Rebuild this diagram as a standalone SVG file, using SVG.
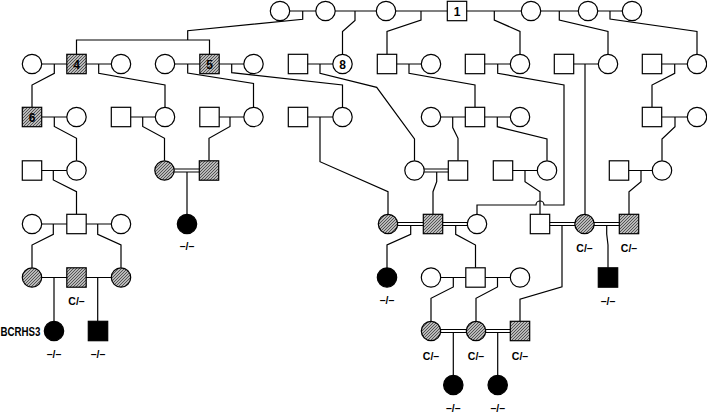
<svg xmlns="http://www.w3.org/2000/svg" width="707" height="413" viewBox="0 0 707 413">
<defs>
<pattern id="hatch" patternUnits="userSpaceOnUse" width="3" height="3">
<rect width="3" height="3" fill="#b8b8b8"/>
<path d="M-1,1 L1,-1 M0,3 L3,0 M2,4 L4,2" stroke="#484848" stroke-width="0.9"/>
</pattern>
<style>
.ln{fill:none;stroke:#000;stroke-width:1.2}
.u{fill:#fff;stroke:#000;stroke-width:1.2}
.h{fill:url(#hatch);stroke:#000;stroke-width:1.2}
.a{fill:#000;stroke:#000;stroke-width:1.2}
.num{font-family:"Liberation Sans",Arial,sans-serif;font-weight:bold;font-size:12px;text-anchor:middle}
.lbl{font-family:"Liberation Sans",Arial,sans-serif;font-weight:bold;font-size:10.5px;text-anchor:middle}
.side{font-family:"Liberation Sans",Arial,sans-serif;font-weight:bold;font-size:12px}
</style>
</defs>
<rect width="707" height="413" fill="#fff"/>
<g id="connectors" class="ln">
<path d="M280,11 H632"/>
<path d="M302.7,11 V19.3 L187.7,30.7 V40 M76.5,54.3 V40 H209.5 V54.3"/>
<path d="M355,11 V20.5 L342.5,31.5 V54.3"/>
<path d="M421,11 V20 L387,31.5 V54.3"/>
<path d="M494.3,11 V20 L520,31.5 V54.3"/>
<path d="M559.3,11 V20 L608,31.5 V54.3"/>
<path d="M610,11 V19 L697,31.5 V54.3"/>
<path d="M32,64 H121 M165,64 H253.5 M298,64 H342.5 M387,64 H431 M475,64 H520 M564,64 H608 M652,64 H697"/>
<path d="M54.3,64 V73.3 L32,85 V107.3"/>
<path d="M98.7,64 V73.3 L165,85 V107.3"/>
<path d="M187.7,64 V73 L253.5,83.5 V107.3"/>
<path d="M231.7,64 V72.7 L342.5,85 V107.3"/>
<path d="M320,64 V73.3 L376.7,87.3 L414.5,139 V160.8"/>
<path d="M409,64 V73.3 L475,85 V107.3"/>
<path d="M497.7,64 V73.3 L564,85 V205 H544 A4,4 0 0 0 536,205 H477 V214.3"/>
<path d="M585,64 V214.3"/>
<path d="M674.7,64 V73.3 L652,85 V107.3"/>
<path d="M32,117 H76.5 M121,117 H165 M209.5,117 H253.5 M298,117 H342.5 M431,117 H520 M652,117 H697"/>
<path d="M54.3,117 V126.5 L76.5,138.3 V160.8"/>
<path d="M142.7,117 V126.5 L164.5,138.3 V160.8"/>
<path d="M230,117 V126.5 L209,138.3 V160.8"/>
<path d="M320,117 V161.7 L388,191.7 V214.3"/>
<path d="M452.7,117 V127.5 L458,138.3 V160.8"/>
<path d="M497.3,117 V126.7 L547,139 V160.8"/>
<path d="M675,117 V126.7 L662,139 V160.8"/>
<path d="M32,170.5 H76.5 M503,170.5 H547 M619,170.5 H662"/>
<path d="M164.5,169 H209 M164.5,172 H209 M414.5,169 H458 M414.5,172 H458"/>
<path d="M53.3,170.5 V180 L76.5,191.7 V214.3"/>
<path d="M187,172 V214.3"/>
<path d="M436.7,172 V181.7 L433,191.7 V214.3"/>
<path d="M525,170.5 V181.7 L540,191.7 V214.3"/>
<path d="M641,170.5 V181.7 L629,191.7 V214.3"/>
<path d="M32,224 H121"/>
<path d="M388,222.5 H477 M388,225.5 H477 M540,222.5 H629 M540,225.5 H629"/>
<path d="M53.3,224 V234.3 L32,245 V267.8"/>
<path d="M97.7,224 V234.3 L121,245 V267.8"/>
<path d="M410.7,225.5 V234.3 L387,245 V267.8"/>
<path d="M455.7,225.5 V234.3 L475.5,245 V267.8"/>
<path d="M562,225.5 V286.7 L520,299.3 V321.3"/>
<path d="M606.7,225.5 V234 L608,245 V267.8"/>
<path d="M32,277.5 H121 M431,277.5 H520"/>
<path d="M54,277.5 V321.3"/>
<path d="M97.7,277.5 V321.3"/>
<path d="M453.3,277.5 V287 L431,298.3 V321.3"/>
<path d="M497.5,277.5 V287 L476,298.3 V321.3"/>
<path d="M431,329.5 H520 M431,332.5 H520"/>
<path d="M453.3,332.5 V375.3"/>
<path d="M497.7,332.5 V375.3"/>
</g>
<g id="r0c1"><circle class="u" cx="280" cy="11" r="9.7"/></g>
<g id="r0c2"><circle class="u" cx="325.5" cy="11" r="9.7"/></g>
<g id="r0c3"><circle class="u" cx="386" cy="11" r="9.7"/></g>
<g id="n1"><rect class="u" x="447.3" y="1.3" width="19.4" height="19.4"/><text class="num" x="457" y="15.5">1</text></g>
<g id="r0c4"><circle class="u" cx="531" cy="11" r="9.7"/></g>
<g id="r0c5"><circle class="u" cx="588" cy="11" r="9.7"/></g>
<g id="r0c6"><circle class="u" cx="632" cy="11" r="9.7"/></g>
<g id="r1c1"><circle class="u" cx="32" cy="64" r="9.7"/></g>
<g id="n4"><rect class="h" x="66.8" y="54.3" width="19.4" height="19.4"/><text class="num" x="76.5" y="68.5">4</text></g>
<g id="r1c2"><circle class="u" cx="121" cy="64" r="9.7"/></g>
<g id="r1c3"><circle class="u" cx="165" cy="64" r="9.7"/></g>
<g id="n5"><rect class="h" x="199.8" y="54.3" width="19.4" height="19.4"/><text class="num" x="209.5" y="68.5">5</text></g>
<g id="r1c4"><circle class="u" cx="253.5" cy="64" r="9.7"/></g>
<g id="r1s1"><rect class="u" x="288.3" y="54.3" width="19.4" height="19.4"/></g>
<g id="n8"><circle class="u" cx="342.5" cy="64" r="9.7"/><text class="num" x="342.5" y="68.5">8</text></g>
<g id="r1s2"><rect class="u" x="377.3" y="54.3" width="19.4" height="19.4"/></g>
<g id="r1c5"><circle class="u" cx="431" cy="64" r="9.7"/></g>
<g id="r1s3"><rect class="u" x="465.3" y="54.3" width="19.4" height="19.4"/></g>
<g id="r1c6"><circle class="u" cx="520" cy="64" r="9.7"/></g>
<g id="r1s4"><rect class="u" x="554.3" y="54.3" width="19.4" height="19.4"/></g>
<g id="r1c7"><circle class="u" cx="608" cy="64" r="9.7"/></g>
<g id="r1s5"><rect class="u" x="642.3" y="54.3" width="19.4" height="19.4"/></g>
<g id="r1c8"><circle class="u" cx="697" cy="64" r="9.7"/></g>
<g id="n6"><rect class="h" x="22.3" y="107.3" width="19.4" height="19.4"/><text class="num" x="32" y="121.5">6</text></g>
<g id="r2c1"><circle class="u" cx="76.5" cy="117" r="9.7"/></g>
<g id="r2s1"><rect class="u" x="111.3" y="107.3" width="19.4" height="19.4"/></g>
<g id="r2c2"><circle class="u" cx="165" cy="117" r="9.7"/></g>
<g id="r2s2"><rect class="u" x="199.8" y="107.3" width="19.4" height="19.4"/></g>
<g id="r2c3"><circle class="u" cx="253.5" cy="117" r="9.7"/></g>
<g id="r2s3"><rect class="u" x="288.3" y="107.3" width="19.4" height="19.4"/></g>
<g id="r2c4"><circle class="u" cx="342.5" cy="117" r="9.7"/></g>
<g id="r2c5"><circle class="u" cx="431" cy="117" r="9.7"/></g>
<g id="r2s4"><rect class="u" x="465.3" y="107.3" width="19.4" height="19.4"/></g>
<g id="r2c6"><circle class="u" cx="520" cy="117" r="9.7"/></g>
<g id="r2s5"><rect class="u" x="642.3" y="107.3" width="19.4" height="19.4"/></g>
<g id="r2c7"><circle class="u" cx="697" cy="117" r="9.7"/></g>
<g id="r3s1"><rect class="u" x="22.3" y="160.8" width="19.4" height="19.4"/></g>
<g id="r3c1"><circle class="u" cx="76.5" cy="170.5" r="9.7"/></g>
<g id="r3c2"><circle class="h" cx="164.5" cy="170.5" r="9.7"/></g>
<g id="r3s2"><rect class="h" x="199.3" y="160.8" width="19.4" height="19.4"/></g>
<g id="r3c3"><circle class="u" cx="414.5" cy="170.5" r="9.7"/></g>
<g id="r3s3"><rect class="u" x="448.3" y="160.8" width="19.4" height="19.4"/></g>
<g id="r3s4"><rect class="u" x="493.3" y="160.8" width="19.4" height="19.4"/></g>
<g id="r3c4"><circle class="u" cx="547" cy="170.5" r="9.7"/></g>
<g id="r3s5"><rect class="u" x="609.3" y="160.8" width="19.4" height="19.4"/></g>
<g id="r3c5"><circle class="u" cx="662" cy="170.5" r="9.7"/></g>
<g id="r4c1"><circle class="u" cx="32" cy="224" r="9.7"/></g>
<g id="r4s1"><rect class="u" x="66.8" y="214.3" width="19.4" height="19.4"/></g>
<g id="r4c2"><circle class="u" cx="121" cy="224" r="9.7"/></g>
<g id="r4c3"><circle class="a" cx="187" cy="224" r="9.7"/><text class="lbl" x="187" y="249.5">–/–</text></g>
<g id="r4c4"><circle class="h" cx="388" cy="224" r="9.7"/></g>
<g id="r4s2"><rect class="h" x="423.3" y="214.3" width="19.4" height="19.4"/></g>
<g id="r4c5"><circle class="u" cx="477" cy="224" r="9.7"/></g>
<g id="r4s3"><rect class="u" x="530.3" y="214.3" width="19.4" height="19.4"/></g>
<g id="r4c6"><circle class="h" cx="584.5" cy="224" r="9.7"/><text class="lbl" x="584.5" y="251.5">C/–</text></g>
<g id="r4s4"><rect class="h" x="619.3" y="214.3" width="19.4" height="19.4"/><text class="lbl" x="629" y="251.5">C/–</text></g>
<g id="r5c1"><circle class="h" cx="32" cy="277.5" r="9.7"/></g>
<g id="r5s1"><rect class="h" x="66.8" y="267.8" width="19.4" height="19.4"/><text class="lbl" x="76.5" y="305">C/–</text></g>
<g id="r5c2"><circle class="h" cx="121" cy="277.5" r="9.7"/></g>
<g id="r5c3"><circle class="a" cx="387" cy="277.5" r="9.7"/><text class="lbl" x="387" y="303.5">–/–</text></g>
<g id="r5c4"><circle class="u" cx="431" cy="277.5" r="9.7"/></g>
<g id="r5s2"><rect class="u" x="465.8" y="267.8" width="19.4" height="19.4"/></g>
<g id="r5c5"><circle class="u" cx="520" cy="277.5" r="9.7"/></g>
<g id="r5s3"><rect class="a" x="598.3" y="267.8" width="19.4" height="19.4"/><text class="lbl" x="608" y="304.5">–/–</text></g>
<g id="bcrhs3"><circle class="a" cx="54" cy="331" r="9.7"/><text class="side" x="0.5" y="335.5" textLength="40" lengthAdjust="spacingAndGlyphs">BCRHS3</text><text class="lbl" x="54" y="357.5">–/–</text></g>
<g id="r6s1"><rect class="a" x="88.3" y="321.3" width="19.4" height="19.4"/><text class="lbl" x="98" y="357.5">–/–</text></g>
<g id="r6c2"><circle class="h" cx="431" cy="331" r="9.7"/><text class="lbl" x="431" y="359.5">C/–</text></g>
<g id="r6c3"><circle class="h" cx="476" cy="331" r="9.7"/><text class="lbl" x="476" y="359.5">C/–</text></g>
<g id="r6s2"><rect class="h" x="510.3" y="321.3" width="19.4" height="19.4"/><text class="lbl" x="520" y="359.5">C/–</text></g>
<g id="r7c1"><circle class="a" cx="453.3" cy="385" r="9.7"/><text class="lbl" x="453.3" y="411.5">–/–</text></g>
<g id="r7c2"><circle class="a" cx="497.7" cy="385" r="9.7"/><text class="lbl" x="497.7" y="411.5">–/–</text></g>
</svg>
